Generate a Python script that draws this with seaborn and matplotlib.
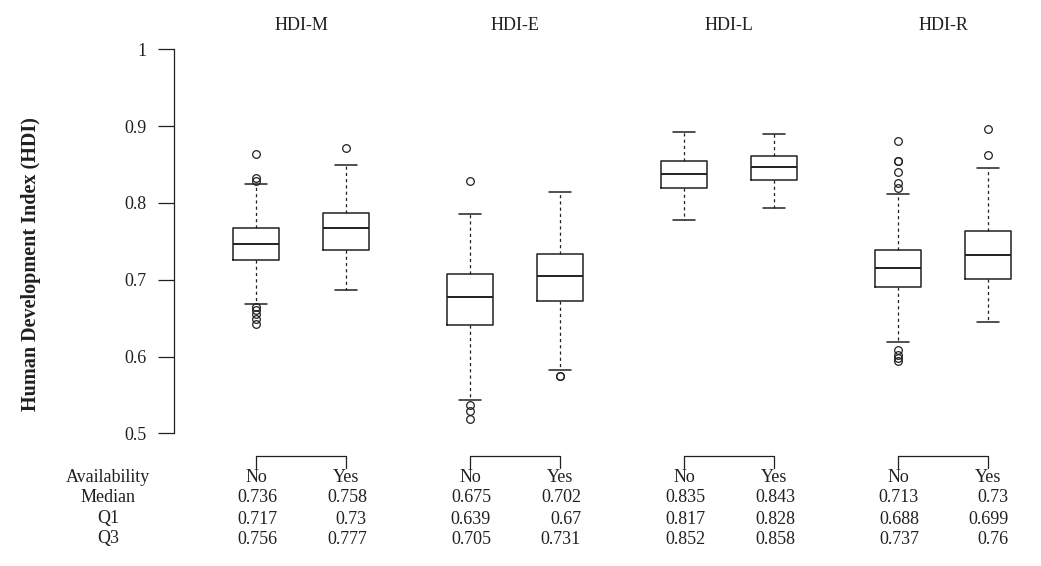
import matplotlib
matplotlib.use("Agg")
import matplotlib.pyplot as plt
import matplotlib.transforms as mtransforms
import seaborn as sns

# ---------------- data ----------------
groups = ["HDI-M", "HDI-E", "HDI-L", "HDI-R"]
availability = ["No", "Yes"]

box_q1 = [[0.726, 0.739], [0.641, 0.672], [0.820, 0.830], [0.691, 0.701]]
box_median = [[0.746, 0.767], [0.677, 0.705], [0.838, 0.847], [0.715, 0.732]]
box_q3 = [[0.767, 0.787], [0.707, 0.733], [0.854, 0.861], [0.739, 0.763]]
whisker_low = [[0.668, 0.686], [0.543, 0.582], [0.778, 0.793], [0.619, 0.645]]
whisker_high = [[0.824, 0.849], [0.785, 0.814], [0.892, 0.890], [0.812, 0.845]]
outliers = [
    [[0.864, 0.833, 0.828, 0.664, 0.660, 0.655, 0.649, 0.642], [0.872]],
    [[0.828, 0.537, 0.529, 0.518], [0.575, 0.574]],
    [[], []],
    [[0.880, 0.855, 0.854, 0.840, 0.826, 0.819, 0.609, 0.602, 0.598, 0.594],
     [0.896, 0.863]],
]

row_labels = ["Availability", "Median", "Q1", "Q3"]
table_median = [["0.736", "0.758"], ["0.675", "0.702"], ["0.835", "0.843"], ["0.713", "0.73"]]
table_q1 = [["0.717", "0.73"], ["0.639", "0.67"], ["0.817", "0.828"], ["0.688", "0.699"]]
table_q3 = [["0.756", "0.777"], ["0.705", "0.731"], ["0.852", "0.858"], ["0.737", "0.76"]]

y_ticks = [0.5, 0.6, 0.7, 0.8, 0.9, 1.0]
y_ticklabels = ["0.5", "0.6", "0.7", "0.8", "0.9", "1"]
y_label = "Human Development Index (HDI)"

# ---------------- style ----------------
sns.set_theme(style="ticks")
plt.rcParams["font.family"] = ["Liberation Serif", "DejaVu Serif"]
INK = "#231f20"
FS = 13

W, H = 1041, 566
fig = plt.figure(figsize=(W / 100, H / 100), dpi=100)
fig.patch.set_facecolor("white")


def fx(px):
    return px / W


def fy(py):
    return 1 - py / H


ax_left, ax_right = 174, 1041
ax_top, ax_bottom = 49.3, 433.3
ax = fig.add_axes([fx(ax_left), fy(ax_bottom), fx(ax_right) - fx(ax_left),
                   (ax_bottom - ax_top) / H])
ax.set_facecolor("white")

unit = 90.0          # px between No and Yes
group_step = 214.0 / unit
first_px = 256.0

positions = []
stats = []
for g in range(len(groups)):
    for k in range(len(availability)):
        positions.append(1 + g * group_step + k)
        stats.append(dict(
            med=box_median[g][k], q1=box_q1[g][k], q3=box_q3[g][k],
            whislo=whisker_low[g][k], whishi=whisker_high[g][k],
            fliers=outliers[g][k], label=f"{groups[g]} {availability[k]}",
        ))

ax.bxp(stats, positions=positions, widths=0.51, showfliers=True,
       manage_ticks=False,
       boxprops=dict(color=INK, linewidth=1.1),
       medianprops=dict(color=INK, linewidth=1.4),
       whiskerprops=dict(color=INK, linewidth=0.9, linestyle=(0, (2.5, 2.5))),
       capprops=dict(color=INK, linewidth=1.1),
       flierprops=dict(marker="o", markerfacecolor="none", markeredgecolor=INK,
                       markersize=5.5, markeredgewidth=0.9, linestyle="none"))

ax.set_xlim(1 - (first_px - ax_left) / unit, 1 + (ax_right - first_px) / unit)
ax.set_ylim(0.5, 1.0)
ax.set_xticks([])
ax.set_yticks(y_ticks)
ax.set_yticklabels(y_ticklabels)
for s in ["top", "right", "bottom"]:
    ax.spines[s].set_visible(False)
ax.spines["left"].set_color(INK)
ax.spines["left"].set_linewidth(0.9)
ax.tick_params(axis="y", length=11.5, width=0.9, pad=8, labelsize=FS,
               colors=INK, direction="out")
ax.grid(False)

fig.text(fx(31), fy(264), y_label, rotation=90, fontweight="bold",
         ha="center", va="center", fontsize=14.5, color=INK)

blend = mtransforms.blended_transform_factory(ax.transData, fig.transFigure)

# group titles and brackets
for g, name in enumerate(groups):
    p0 = positions[2 * g]
    p1 = positions[2 * g + 1]
    ax.text((p0 + p1) / 2, fy(25.5), name, transform=blend, ha="center",
            va="center", fontsize=FS, color=INK)
    ax.plot([p0, p0, p1, p1], [fy(467.7), fy(456), fy(456), fy(467.7)],
            transform=blend, clip_on=False, color=INK, lw=0.9)

# table below
row_y = [477, 498, 519, 539]
for lab, py in zip(row_labels, row_y):
    fig.text(fx(108), fy(py), lab, ha="center", va="center", fontsize=FS,
             color=INK)

num_offset = 21.0 / unit
for g in range(len(groups)):
    for k in range(len(availability)):
        p = positions[2 * g + k]
        ax.text(p, fy(row_y[0]), availability[k], transform=blend,
                ha="center", va="center", fontsize=FS, color=INK)
        for table, py in zip([table_median, table_q1, table_q3], row_y[1:]):
            ax.text(p + num_offset, fy(py), table[g][k], transform=blend,
                    ha="right", va="center", fontsize=FS, color=INK)

fig.savefig("out.png", dpi=100, facecolor="white")
